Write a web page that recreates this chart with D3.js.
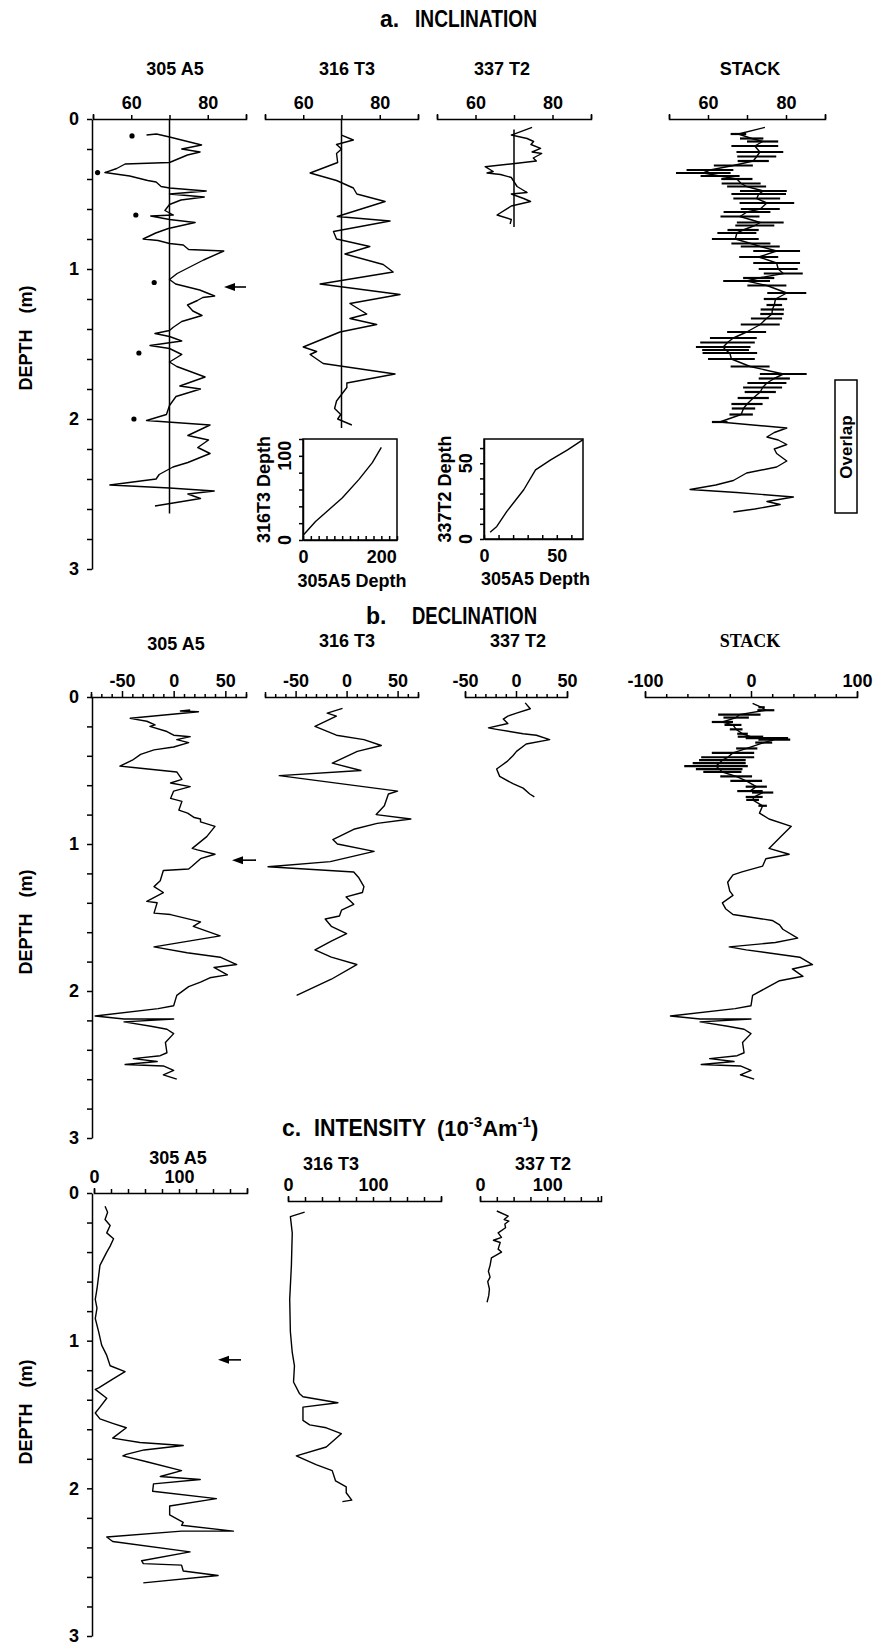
<!DOCTYPE html>
<html>
<head>
<meta charset="utf-8">
<title>Inclination, declination and intensity records</title>
<style>
  body { margin: 0; background: white; }
  svg text { font-family: "Liberation Sans", Arial, sans-serif; font-weight: bold; fill: black; }
  .axis path, .axis line { stroke: black; stroke-width: 1.5; }
  .axis text { font-size: 18px; }
  .curve { fill: none; stroke: black; stroke-width: 1.4; stroke-linejoin: round; }
</style>
<script src="https://d3js.org/d3.v7.min.js"></script>
</head>
<body>
<svg id="fig" width="873" height="1647"></svg>
<script>
// ---- data: [depth (m), value] ----
const depthTicks = [0, 1, 2, 3];

const incTicks = [50, 60, 70, 80, 90];
const incLabels = [60, 80];
const incRefValue = 70;

const incA5 = [[0.107,64],[0.10,66.6],[0.12,70],[0.173,78.4],[0.2,73.2],[0.22,78],[0.24,74.7],[0.29,70],[0.30,58.4],[0.33,56.2],[0.357,53.1],[0.38,59.6],[0.41,64.3],[0.42,66.5],[0.45,67.8],[0.46,70],[0.48,79.6],[0.5,70],[0.52,79.1],[0.54,73],[0.57,70],[0.61,68.8],[0.64,71],[0.647,65.1],[0.67,70],[0.69,76.7],[0.73,69.7],[0.76,66.4],[0.8,63.1],[0.81,67],[0.83,70],[0.84,73.6],[0.87,75],[0.88,84.2],[0.94,78.9],[1.03,72],[1.07,70],[1.1,71.6],[1.14,77.9],[1.18,81.8],[1.19,78.7],[1.21,77.3],[1.24,74.7],[1.28,76.1],[1.31,78.5],[1.35,73.2],[1.39,70.9],[1.41,70],[1.43,66.2],[1.45,70],[1.48,73.2],[1.51,64.9],[1.53,70],[1.57,73.2],[1.62,70],[1.65,71.9],[1.72,79.3],[1.78,72.7],[1.8,78.1],[1.85,71.7],[1.91,70],[1.97,69.2],[2.01,64],[2.04,80.6],[2.11,74.8],[2.14,80.2],[2.19,77.4],[2.23,80.6],[2.29,74.8],[2.32,70.9],[2.37,67.3],[2.4,66.5],[2.44,54.4],[2.46,70],[2.48,81.7],[2.5,74.8],[2.53,78.1],[2.58,66.2]];
const incA5Dots = [[0.113,60.2],[0.357,51.2],[0.64,61.2],[1.09,66],[1.56,62],[2.0,60.7]];

const incT3 = [[0.107,70],[0.14,73.1],[0.17,68.7],[0.2,70],[0.23,68.7],[0.29,69],[0.36,61.8],[0.41,68.7],[0.46,73.1],[0.5,74],[0.55,81.4],[0.65,68.9],[0.68,82.7],[0.75,67.9],[0.8,68.7],[0.85,77.4],[0.9,70.9],[0.97,80.9],[1.02,83.5],[1.1,64.4],[1.17,85.3],[1.23,72.2],[1.3,76.6],[1.33,72.2],[1.37,79.2],[1.42,69.6],[1.52,60],[1.55,63.5],[1.57,61.8],[1.63,65.2],[1.70,84],[1.76,71.4],[1.79,71.4],[1.88,68.7],[1.93,68.2],[1.97,69.8],[2.0,69],[2.04,72.7]];

const incT2 = [[0.056,74.7],[0.107,69.3],[0.13,73.4],[0.15,75.1],[0.17,74.4],[0.196,76.9],[0.22,74.7],[0.23,77.2],[0.26,75],[0.28,75.8],[0.3,69.1],[0.318,62.5],[0.35,64.6],[0.36,63],[0.37,66.5],[0.39,69.3],[0.45,70.8],[0.49,73.4],[0.5,69.3],[0.53,72.5],[0.55,74.3],[0.58,69.3],[0.64,65.6],[0.67,69.3],[0.7,69]];

// [depth, value, half error]
const incStack = [[0.056,74.6,0],[0.1,67.8,2],[0.13,71.2,3],[0.15,74,4],[0.18,72,6],[0.22,73.3,6],[0.25,72.5,5],[0.28,71.6,4],[0.31,66.5,5],[0.34,60.5,6],[0.36,58.8,7],[0.38,63.1,5],[0.4,67.4,4],[0.43,68.5,5],[0.45,69.9,5],[0.48,74.2,6],[0.5,73,7],[0.53,72.5,6],[0.56,75.1,7],[0.6,73.4,5],[0.62,70,6],[0.65,68.2,5],[0.69,73.4,6],[0.71,72,5],[0.74,69,4],[0.76,67.4,5],[0.8,67,6],[0.83,71,5],[0.85,73.4,5],[0.88,77.6,6],[0.92,73,5],[0.96,77.6,6],[1.0,78,5],[1.03,79.3,5],[1.06,73,4],[1.08,69.9,6],[1.11,75.1,5],[1.16,80.2,5],[1.2,77.3,3],[1.24,77,2],[1.27,76.5,3],[1.3,76.4,3],[1.33,75,4],[1.37,73.4,5],[1.42,69.9,5],[1.46,66.5,6],[1.49,65,7],[1.52,63.9,7],[1.54,64.5,6],[1.56,65.6,7],[1.6,66,6],[1.65,70.8,5],[1.7,79.3,6],[1.73,77,4],[1.76,75.1,5],[1.79,74,5],[1.82,73.4,4],[1.86,71.6,4],[1.9,70,4],[1.93,69.1,3],[1.97,68.5,3],[2.02,63,2],[2.06,80.2,0],[2.09,77,0],[2.12,75.1,0],[2.14,78,0],[2.17,80.2,0],[2.2,77,0],[2.23,77.6,0],[2.28,80.2,0],[2.32,77.6,0],[2.36,69.9,0],[2.41,66.5,0],[2.44,62,0],[2.47,55.4,0],[2.49,67.4,0],[2.52,81.9,0],[2.55,75.1,0],[2.57,78.5,0],[2.6,72,0],[2.62,66.5,0]];

// inset depth correlations [305A5 depth, other core depth]
const corrT3 = [[1,6],[32,22],[66,36],[100,50],[143,72],[177,92],[200,110]];
const corrT2 = [[4.2,4.4],[8.8,8.3],[15.7,18.2],[27.3,32.5],[35.4,45.6],[45.8,52.2],[57.4,58.8],[67.8,65.4]];
const corrT3Ticks = [[0, 200], [0, 100]];
const corrT2Ticks = [[0, 50], [0, 50]];

const decTicks = [-80,-70,-60,-50,-40,-30,-20,-10,0,10,20,30,40,50,60,70];
const decT2Ticks = [-50,-40,-30,-20,-10,0,10,20,30,40,50];
const decLabels = [-50, 0, 50];
const decStackTicks = [-100,-80,-60,-40,-20,0,20,40,60,80,100];
const decStackLabels = [-100, 0, 100];

const decA5 = [[0.088,16],[0.095,6.5],[0.1,24],[0.145,-42],[0.165,-26],[0.19,-18],[0.2,-23],[0.235,-6.5],[0.26,0],[0.27,16],[0.29,3],[0.31,14.5],[0.34,0],[0.36,-19],[0.39,-32],[0.43,-40],[0.47,-52],[0.48,-39],[0.51,3],[0.56,8],[0.585,-3],[0.61,16],[0.64,0],[0.69,-3],[0.71,8],[0.77,5],[0.79,13.5],[0.82,20],[0.83,26],[0.85,26],[0.88,40],[0.95,32],[1.03,18],[1.04,23],[1.07,40],[1.1,26],[1.15,18],[1.17,14.5],[1.18,-10],[1.25,-13],[1.29,-19],[1.33,-10],[1.39,-26],[1.4,-16],[1.47,-19],[1.48,-3],[1.53,26],[1.56,19],[1.625,45],[1.70,-19],[1.74,13],[1.77,45],[1.82,61],[1.84,39],[1.89,52],[1.91,35],[1.94,26],[1.97,14.5],[2.03,3],[2.1,0],[2.12,-15],[2.17,-76],[2.19,-48],[2.19,0],[2.21,-48],[2.24,-22],[2.26,-6.5],[2.29,0],[2.35,-8],[2.42,-6.5],[2.44,-13],[2.46,-39],[2.48,-16],[2.5,-47],[2.51,-10],[2.54,0],[2.57,-10],[2.6,3]];

const decT3 = [[0.077,-4],[0.11,-19],[0.13,-10],[0.2,-31],[0.26,-10],[0.29,17],[0.33,34],[0.37,10.5],[0.45,-14],[0.5,14],[0.535,-66],[0.64,50],[0.66,41],[0.74,37],[0.8,29],[0.83,63],[0.86,30],[0.9,7],[0.97,-13.5],[1.0,-9],[1.05,27],[1.12,-16],[1.155,-77],[1.19,7],[1.23,12],[1.29,17],[1.33,15.5],[1.36,-0.5],[1.41,7],[1.45,-5],[1.49,-7],[1.51,-21],[1.56,-15],[1.61,0],[1.66,-15],[1.72,-31],[1.77,-15],[1.82,10],[1.92,-15],[2.03,-49]];

const decT2 = [[0.04,9],[0.08,14],[0.11,0.5],[0.13,-8],[0.15,-12.5],[0.18,-8],[0.21,-27],[0.22,-19],[0.25,7],[0.26,20],[0.29,33],[0.32,10],[0.37,0.5],[0.4,-3],[0.44,-9],[0.49,-19],[0.54,-16],[0.59,-3],[0.62,7],[0.66,13.5],[0.68,18]];

const decStack = [[0.043,1.5,0],[0.07,10,3],[0.09,14,8],[0.12,-11,20],[0.14,-14,12],[0.17,-27,10],[0.19,-17,8],[0.22,-14,6],[0.25,-8,5],[0.27,-0.5,12],[0.28,15,20],[0.29,22,15],[0.31,12,8],[0.35,-4,10],[0.38,-17,20],[0.41,-22,25],[0.43,-27,22],[0.45,-30,25],[0.47,-33,30],[0.49,-30,22],[0.51,-27,18],[0.54,-14,15],[0.57,-4.5,15],[0.61,5,10],[0.64,-1,12],[0.65,11,10],[0.68,3,8],[0.7,1.5,6],[0.74,11,4],[0.79,8,0],[0.83,17,0],[0.88,38,0],[0.95,28,0],[1.03,17,0],[1.07,36,0],[1.1,14,0],[1.15,11,0],[1.19,-8.5,0],[1.21,-17,0],[1.26,-22,0],[1.32,-20,0],[1.35,-17,0],[1.4,-27,0],[1.44,-24,0],[1.48,-17,0],[1.5,1.5,0],[1.52,20,0],[1.55,27,0],[1.58,30,0],[1.64,44,0],[1.67,23,0],[1.7,-20.5,0],[1.72,-4.5,0],[1.77,46,0],[1.82,58,0],[1.85,39,0],[1.9,49,0],[1.93,27,0],[1.98,14,0],[2.03,1.5,0],[2.1,0,0],[2.12,-15,0],[2.17,-76,0],[2.19,-48,0],[2.19,0,0],[2.21,-48,0],[2.24,-22,0],[2.26,-6.5,0],[2.29,0,0],[2.35,-8,0],[2.42,-6.5,0],[2.44,-13,0],[2.46,-39,0],[2.48,-16,0],[2.5,-47,0],[2.51,-10,0],[2.54,0,0],[2.57,-10,0],[2.6,3,0]];

const intTicks = [0,20,40,60,80,100,120,140,160,180];
const intT2Ticks = [0,25,50,75,100,125,150,175];
const intLabels = [0, 100];

const intA5 = [[0.09,13],[0.13,16],[0.18,13],[0.22,19],[0.27,15],[0.31,23],[0.36,19],[0.4,15],[0.49,7],[0.56,5.5],[0.65,3.5],[0.72,1.5],[0.78,3.5],[0.85,1.5],[0.94,5.5],[1.03,9],[1.1,15],[1.17,19],[1.21,36.5],[1.26,22],[1.32,5.5],[1.33,1.5],[1.39,15],[1.45,7],[1.49,1.5],[1.53,7],[1.56,22],[1.59,38],[1.66,22],[1.69,54],[1.71,105],[1.74,59],[1.77,38],[1.78,34],[1.82,62],[1.88,103],[1.92,78],[1.94,125],[1.97,70],[2.02,69],[2.07,144],[2.12,89],[2.18,89],[2.23,105],[2.25,103],[2.29,164],[2.29,103],[2.33,15],[2.36,22],[2.43,113],[2.49,56],[2.51,58],[2.52,103],[2.56,105],[2.59,146],[2.64,58]];

const intT3 = [[0.13,19.6],[0.16,2.8],[0.27,5],[0.49,4],[0.72,2],[0.94,2.8],[1.08,5],[1.17,7.6],[1.28,6.5],[1.36,13.7],[1.38,17.6],[1.42,58.7],[1.45,17.6],[1.54,17.6],[1.57,25.5],[1.59,45],[1.63,62.7],[1.72,45],[1.78,9.8],[1.84,33],[1.88,52],[1.95,56],[1.99,68.5],[2.03,68.5],[2.08,75],[2.09,64]];

const intT2 = [[0.122,25],[0.156,42],[0.18,36],[0.19,43],[0.21,37],[0.235,38],[0.27,27],[0.3,32],[0.32,20],[0.335,30],[0.38,27],[0.4,32],[0.44,17],[0.49,15],[0.53,12.5],[0.57,15],[0.6,11.5],[0.65,14],[0.695,13],[0.74,10.5]];

const arrowDepths = [1.12, 1.11, 1.13];

// ---- drawing ----
const svg = d3.select("#fig");

const yInc = d3.scaleLinear().domain([0, 3]).range([119, 569]);
const yDec = d3.scaleLinear().domain([0, 3]).range([697, 1138]);
const yInt = d3.scaleLinear().domain([0, 3]).range([1193, 1636]);

function txt(s, x, y, size, anchor, rot) {
  const t = svg.append("text").attr("x", x).attr("y", y)
    .attr("font-size", size).attr("text-anchor", anchor || "middle").text(s);
  if (rot) t.attr("transform", `rotate(${rot},${x},${y})`);
  return t;
}

// section title: letter, then a word squeezed to the measured width (narrow bold face)
function sectionTitle(letter, lx, word, wx, wlen, y) {
  txt(letter, lx, y, 23, "start");
  return txt(word, wx, y, 23, "start")
    .attr("textLength", wlen).attr("lengthAdjust", "spacingAndGlyphs");
}

function depthAxis(y, labelY) {
  const vals = d3.range(0, 16).map(i => i * 0.2);
  svg.append("g").attr("class", "axis").attr("transform", "translate(92,0)")
    .call(d3.axisLeft(y).tickValues(vals).tickSize(5).tickSizeOuter(0).tickPadding(8)
      .tickFormat(d => {
        const r = Math.round(d);
        return Math.abs(d - r) < 1e-6 && depthTicks.includes(r) ? String(r) : "";
      }));
  const t = txt("DEPTH", 32, labelY, 18, "middle", -90);
  t.append("tspan").attr("dx", 16).text("(m)");
}

function topAxis(x, y0, ticks, labels, longMajor) {
  const g = svg.append("g").attr("class", "axis").attr("transform", `translate(0,${y0})`)
    .call(d3.axisTop(x).tickValues(ticks).tickSize(4).tickSizeOuter(5).tickPadding(6)
      .tickFormat(d => labels.includes(d) ? String(d) : ""));
  if (longMajor) g.selectAll(".tick line").attr("y2", d => labels.includes(d) ? -6 : -3);
  return g;
}

function curve(data, x, y) {
  svg.append("path").datum(data).attr("class", "curve")
    .attr("d", d3.line().x(d => x(d[1])).y(d => y(d[0])));
}

function errBars(data, x, y) {
  svg.append("g").selectAll("line").data(data.filter(d => d[2] > 0)).join("line")
    .attr("x1", d => x(d[1] - d[2])).attr("x2", d => x(d[1] + d[2]))
    .attr("y1", d => y(d[0])).attr("y2", d => y(d[0]))
    .attr("stroke", "black").attr("stroke-width", 2.2);
}

function arrow(y, depth, x0, x1) {
  const yy = y(depth);
  svg.append("line").attr("x1", x0).attr("x2", x1 + 6).attr("y1", yy).attr("y2", yy)
    .attr("stroke", "black").attr("stroke-width", 1.6);
  svg.append("path").attr("d", `M${x1},${yy} L${x1 + 11},${yy - 4} L${x1 + 11},${yy + 4} Z`)
    .attr("fill", "black");
}

// ===== a. INCLINATION =====
sectionTitle("a.", 380, "INCLINATION", 415, 122, 27);

depthAxis(yInc, 338);

const incPanels = [
  { name: "305 A5", data: incA5, range: [93, 246], ref: [0, 2.63], tx: 175 },
  { name: "316 T3", data: incT3, range: [265, 418], ref: [0, 2.06], tx: 347 },
  { name: "337 T2", data: incT2, range: [437, 591], ref: [0.07, 0.72], tx: 502 },
  { name: "STACK", data: incStack, range: [669, 825], ref: null, tx: 750 }
];
incPanels.forEach(p => {
  const x = d3.scaleLinear().domain([50, 90]).range(p.range);
  txt(p.name, p.tx, 75, 18);
  topAxis(x, 119, incTicks, incLabels, false);
  if (p.ref) {
    svg.append("line").attr("x1", x(incRefValue)).attr("x2", x(incRefValue))
      .attr("y1", yInc(p.ref[0])).attr("y2", yInc(p.ref[1]))
      .attr("stroke", "black").attr("stroke-width", 1.5);
  }
  if (p.name === "STACK") errBars(p.data, x, yInc);
  curve(p.data, x, yInc);
  if (p.name === "305 A5") {
    svg.append("g").selectAll("circle").data(incA5Dots).join("circle")
      .attr("cx", d => x(d[1])).attr("cy", d => yInc(d[0])).attr("r", 2.6).attr("fill", "black");
  }
});
arrow(yInc, arrowDepths[0], 246, 224);

// Overlap box
svg.append("rect").attr("x", 835).attr("y", 380).attr("width", 22).attr("height", 133)
  .attr("fill", "none").attr("stroke", "black").attr("stroke-width", 1.5);
txt("Overlap", 852, 447, 17, "middle", -90);

// insets
function inset(data, xr, yr, xd, yd, xt, yt, tickLabels, xName, yName, xNameY) {
  const x = d3.scaleLinear().domain(xd).range(xr);
  const y = d3.scaleLinear().domain(yd).range(yr);
  svg.append("rect").attr("x", xr[0]).attr("y", yr[1]).attr("width", xr[1] - xr[0])
    .attr("height", yr[0] - yr[1]).attr("fill", "none").attr("stroke", "black").attr("stroke-width", 1.5);
  svg.append("g").attr("class", "axis").attr("transform", `translate(0,${yr[0]})`)
    .call(d3.axisBottom(x).tickValues(xt).tickSize(-4).tickSizeOuter(0).tickPadding(10)
      .tickFormat(d => tickLabels[0].includes(d) ? String(d) : ""));
  svg.append("g").attr("class", "axis").attr("transform", `translate(${xr[0]},0)`)
    .call(d3.axisLeft(y).tickValues(yt).tickSize(4).tickSizeOuter(0).tickFormat(""));
  tickLabels[1].forEach(v => txt(String(v), xr[0] - 12, y(v), 18, "middle", -90));
  curve(data.map(d => [d[1], d[0]]), x, y);
  txt(xName, (xr[0] + xr[1]) / 2 + 2, xNameY, 18);
  txt(yName, xr[0] - 33, (yr[0] + yr[1]) / 2, 18, "middle", -90);
}
inset(corrT3, [303, 397], [540, 439], [0, 240], [0, 120],
  d3.range(0, 241, 20), d3.range(0, 121, 20), corrT3Ticks, "305A5 Depth", "316T3 Depth", 587);
inset(corrT2, [484, 583], [539, 439], [0, 68], [0, 66],
  d3.range(0, 61, 10), d3.range(0, 61, 10), corrT2Ticks, "305A5 Depth", "337T2 Depth", 585);

// ===== b. DECLINATION =====
sectionTitle("b.", 366, "DECLINATION", 412, 125, 624);

depthAxis(yDec, 922);

const decPanels = [
  { name: "305 A5", data: decA5, dom: [-80, 70], range: [91, 246], ticks: decTicks, labels: decLabels, tx: 176, ty: 650 },
  { name: "316 T3", data: decT3, dom: [-80, 70], range: [265, 418], ticks: decTicks, labels: decLabels, tx: 347, ty: 647 },
  { name: "337 T2", data: decT2, dom: [-50, 50], range: [465, 567], ticks: decT2Ticks, labels: decLabels, tx: 518, ty: 647 },
  { name: "STACK", data: decStack, dom: [-100, 100], range: [645, 857], ticks: decStackTicks, labels: decStackLabels, tx: 750, ty: 647 }
];
decPanels.forEach(p => {
  const x = d3.scaleLinear().domain(p.dom).range(p.range);
  const t = txt(p.name, p.tx, p.ty, 18);
  if (p.name === "STACK") t.style("font-family", "'Liberation Serif', 'Times New Roman', serif");
  topAxis(x, 697, p.ticks, p.labels, true);
  if (p.name === "STACK") errBars(p.data, x, yDec);
  curve(p.data, x, yDec);
});
arrow(yDec, arrowDepths[1], 256, 232);

// ===== c. INTENSITY =====
sectionTitle("c.", 282, "INTENSITY", 314, 112, 1136);
const unit = txt("(10", 437, 1136, 22, "start");
unit.append("tspan").attr("dy", -9).attr("font-size", 15).text("-3");
unit.append("tspan").attr("dy", 9).text("Am");
unit.append("tspan").attr("dy", -9).attr("font-size", 15).text("-1");
unit.append("tspan").attr("dy", 9).text(")");

depthAxis(yInt, 1412);

const intPanels = [
  { name: "305 A5", data: intA5, range: [94, 247], ticks: intTicks, ay: 1193, tx: 178, ty: 1164 },
  { name: "316 T3", data: intT3, range: [288, 441], ticks: intTicks, ay: 1201, tx: 331, ty: 1170 },
  { name: "337 T2", data: intT2, range: [480, 601], ticks: intT2Ticks, ay: 1201, tx: 543, ty: 1170 }
];
intPanels.forEach(p => {
  const x = d3.scaleLinear().domain([0, 180]).range(p.range);
  txt(p.name, p.tx, p.ty, 18);
  topAxis(x, p.ay, p.ticks, intLabels, false);
  curve(p.data, x, yInt);
});
arrow(yInt, arrowDepths[2], 241, 218);
</script>
</body>
</html>
